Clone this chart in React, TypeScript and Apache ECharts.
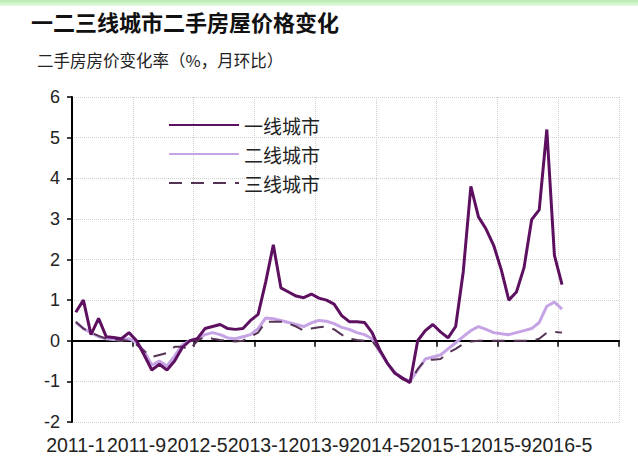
import React, { useEffect, useRef } from 'react';
import * as echarts from 'echarts';

const startYear = 2011;
const monthCount = 72;
const categories: string[] = [];
for (let k = 0; k < monthCount; k++) {
  categories.push(`${startYear + Math.floor(k / 12)}-${(k % 12) + 1}`);
}

const yMin = -2;
const yMax = 6;
const yStep = 1;

const seriesNames = ['一线城市', '二线城市', '三线城市'];
const titleText = '一二三线城市二手房屋价格变化';
const subtitleText = '二手房房价变化率（%，月环比）';

const tier1 = [
  0.7, 1.0, 0.15, 0.55, 0.1, 0.08, 0.05, 0.2, 0.0, -0.35,
  -0.72, -0.58, -0.72, -0.5, -0.17, 0.0, 0.05, 0.3, 0.35, 0.4,
  0.3, 0.28, 0.3, 0.5, 0.65, 1.45, 2.36, 1.3, 1.2, 1.1,
  1.06, 1.15, 1.05, 1.0, 0.9, 0.62, 0.47, 0.47, 0.45, 0.2,
  -0.22, -0.55, -0.8, -0.92, -1.03, 0.0, 0.25, 0.4, 0.22, 0.07,
  0.35, 1.7, 3.8, 3.05, 2.75, 2.35, 1.75, 1.0, 1.2, 1.8,
  2.98, 3.22, 5.2, 2.1, 1.38,
];

const tier2 = [
  0.45, 0.3, 0.2, 0.1, 0.05, 0.03, 0.02, 0.05, -0.05, -0.25,
  -0.6, -0.5, -0.62, -0.38, -0.1, 0.0, 0.05, 0.15, 0.2, 0.15,
  0.07, 0.05, 0.1, 0.15, 0.3, 0.56, 0.54, 0.5, 0.45, 0.4,
  0.35, 0.44, 0.5, 0.48, 0.42, 0.33, 0.28, 0.2, 0.15, 0.05,
  -0.27, -0.55, -0.78, -0.92, -1.0, -0.72, -0.45, -0.4, -0.35, -0.2,
  -0.05, 0.1, 0.25, 0.35, 0.28, 0.2, 0.17, 0.15, 0.2, 0.25,
  0.3, 0.45, 0.85, 0.95, 0.78,
];

const tier3 = [
  0.47, 0.3, 0.2, 0.12, 0.05, 0.03, 0.02, 0.0, -0.1, -0.25,
  -0.4, -0.35, -0.3, -0.15, -0.15, -0.22, 0.0, 0.1, 0.05, 0.02,
  0.0, -0.02, 0.0, 0.1, 0.2, 0.47, 0.47, 0.47, 0.42, 0.35,
  0.25, 0.3, 0.33, 0.35, 0.28, 0.15, 0.05, 0.02, 0.0, 0.0,
  -0.25, -0.55, -0.8, -0.95, -1.0, -0.7, -0.47, -0.47, -0.45, -0.3,
  -0.2, -0.08, -0.02, 0.0, 0.0, 0.0, 0.0, 0.0, 0.0, 0.0,
  0.0, 0.05, 0.2, 0.22, 0.2,
];

const CJK = '"Noto Sans CJK SC", "Noto Sans", sans-serif';
const LATIN = '"Liberation Sans", Arial, sans-serif';

export default function App() {
  const ref = useRef<HTMLDivElement>(null);
  useEffect(() => {
    document.body.style.margin = '0';
    if (!ref.current) return;
    const chart = echarts.init(ref.current, undefined, { renderer: 'svg' });
    chart.setOption({
      animation: false,
      backgroundColor: '#ffffff',
      graphic: [
        {
          type: 'rect',
          left: 0,
          top: 0,
          shape: { width: 638, height: 6 },
          style: {
            fill: new echarts.graphic.LinearGradient(0, 0, 0, 1, [
              { offset: 0, color: '#b6ebae' },
              { offset: 1, color: '#e6f9e2' },
            ]),
          },
        },
      ],
      title: [
        {
          text: titleText,
          left: 31,
          top: 10,
          padding: 0,
          textStyle: { fontSize: 22, fontWeight: 'bold', color: '#111', fontFamily: CJK },
        },
        {
          text: subtitleText,
          left: 37,
          top: 52,
          padding: 0,
          textStyle: { fontSize: 16.5, fontWeight: 'normal', color: '#222', fontFamily: CJK },
        },
      ],
      legend: {
        orient: 'vertical',
        left: 168,
        top: 115,
        padding: 0,
        itemWidth: 70,
        itemHeight: 14,
        itemGap: 9,
        itemStyle: { opacity: 0 },
        data: seriesNames,
        textStyle: { fontSize: 19, color: '#222', fontFamily: CJK, lineHeight: 20 },
      },
      grid: { left: 72, right: 19, top: 97, bottom: 36, containLabel: false },
      xAxis: [
        {
          type: 'category',
          data: categories,
          boundaryGap: true,
          axisLine: { onZero: true, lineStyle: { color: '#000', width: 2 } },
          axisTick: { show: true, interval: 7, length: 6, lineStyle: { color: '#000', width: 1.5 } },
          axisLabel: { show: false },
          splitLine: { show: true, interval: 7, lineStyle: { color: '#cfcfcf', type: 'dotted', width: 1 } },
        },
        {
          type: 'category',
          data: categories,
          position: 'bottom',
          boundaryGap: true,
          axisLine: { show: false, onZero: false },
          axisTick: { show: false },
          splitLine: { show: false },
          axisLabel: {
            interval: 7,
            hideOverlap: false,
            fontSize: 19.5,
            color: '#222',
            margin: 13,
            fontFamily: LATIN,
          },
        },
      ],
      yAxis: {
        type: 'value',
        min: yMin,
        max: yMax,
        interval: yStep,
        axisLine: { show: true, lineStyle: { color: '#000', width: 2 } },
        axisTick: { show: true, length: 5, lineStyle: { color: '#000', width: 1.5 } },
        axisLabel: { fontSize: 18, color: '#222', margin: 12, fontFamily: LATIN },
        splitLine: { show: true, lineStyle: { color: '#cfcfcf', type: 'dotted', width: 1 } },
      },
      series: [
        {
          name: seriesNames[1],
          type: 'line',
          data: tier2,
          symbol: 'none',
          z: 2,
          lineStyle: { color: '#c6a3e4', width: 3 },
          itemStyle: { color: '#c6a3e4' },
        },
        {
          name: seriesNames[2],
          type: 'line',
          data: tier3,
          symbol: 'none',
          z: 3,
          lineStyle: { color: '#553355', width: 2, type: [13, 9] },
          itemStyle: { color: '#553355' },
        },
        {
          name: seriesNames[0],
          type: 'line',
          data: tier1,
          symbol: 'none',
          z: 4,
          lineStyle: { color: '#5e1060', width: 3 },
          itemStyle: { color: '#5e1060' },
        },
      ],
    });
    return () => chart.dispose();
  }, []);
  return <div ref={ref} style={{ width: 638, height: 458 }} />;
}
